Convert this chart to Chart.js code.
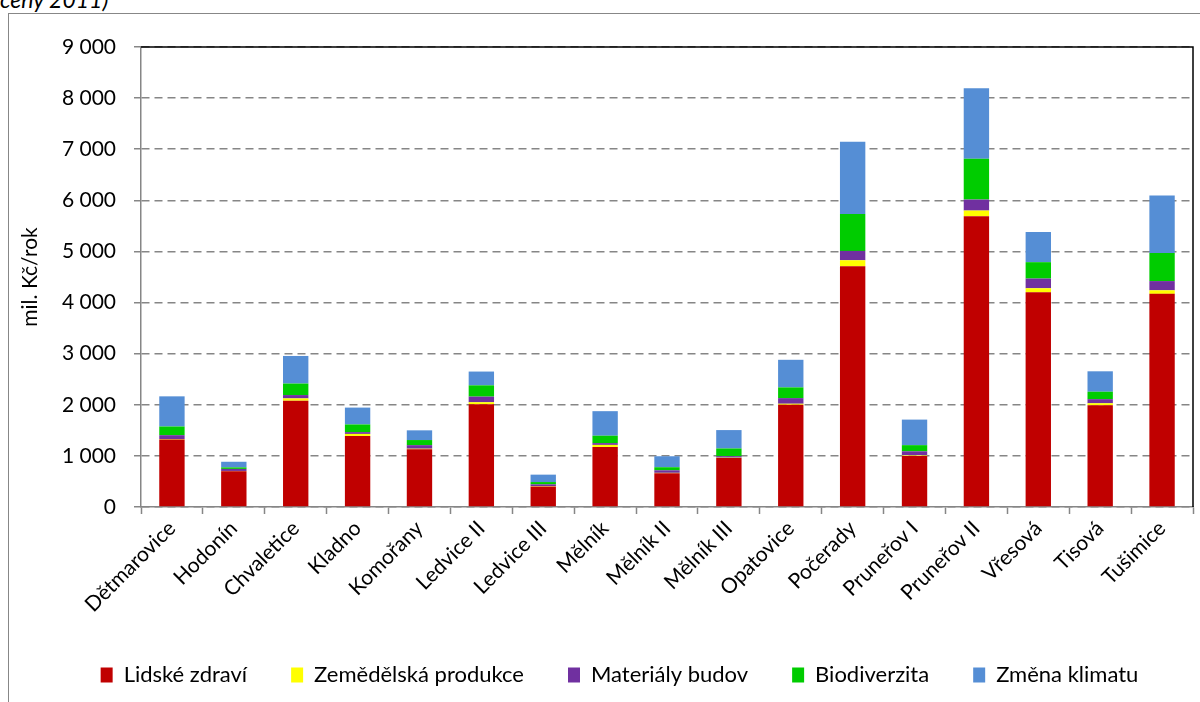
<!DOCTYPE html>
<html>
<head>
<meta charset="utf-8">
<script src="https://cdn.jsdelivr.net/npm/chart.js"></script>
<title>Externí náklady elektráren</title>
<style>
  html, body {
    margin: 0;
    padding: 0;
    background: #fff;
    overflow: hidden;
  }
  #wrap {
    position: relative;
    width: 1200px;
    height: 702px;
  }
  .frame {
    position: absolute;
    left: 8px;
    top: 13px;
    width: 1300px;
    height: 800px;
    border-left: 1.5px solid #878787;
    border-top: 1.5px solid #878787;
  }
  .note {
    position: absolute;
    left: 0;
    top: -12px;
    font-family: Lato, sans-serif;
    font-style: italic;
    font-size: 23px;
    line-height: 22px;
    color: #000;
  }
  canvas {
    position: absolute;
    left: 0;
    top: 0;
  }
</style>
</head>
<body>
<div id="wrap">
  <div class="note">ceny 2011)</div>
  <div class="frame"></div>
  <canvas id="chart" width="1200" height="702"></canvas>
</div>
<script>
  const elektrarny = ['Dětmarovice', 'Hodonín', 'Chvaletice', 'Kladno', 'Komořany', 'Ledvice II',
    'Ledvice III', 'Mělník', 'Mělník II', 'Mělník III', 'Opatovice', 'Počerady', 'Pruneřov I',
    'Pruneřov II', 'Vřesová', 'Tisová', 'Tušimice'];

  // mil. Kč/rok
  const lidskeZdravi = [1320, 700, 2080, 1390, 1130, 2010, 400, 1175, 660, 960, 2000, 4710, 1000, 5690, 4200, 1990, 4170];
  const zemedelskaProdukce = [10, 5, 45, 40, 10, 40, 8, 40, 8, 5, 20, 118, 10, 110, 80, 40, 70];
  const materialyBudov = [75, 40, 65, 35, 70, 110, 35, 35, 50, 30, 110, 183, 80, 215, 190, 80, 180];
  const biodiverzita = [170, 30, 225, 150, 100, 220, 45, 145, 60, 150, 210, 720, 120, 800, 320, 145, 550];
  const zmenaKlimatu = [590, 110, 540, 330, 190, 270, 145, 480, 215, 360, 540, 1413, 500, 1380, 590, 400, 1125];

  const yTicks = [0, 1000, 2000, 3000, 4000, 5000, 6000, 7000, 8000, 9000];

  const font = 'Lato';
  const grey = '#868686';

  function fmt(v) {
    return String(v).replace(/\B(?=(\d{3})+(?!\d))/g, ' ');
  }

  // black line along top and right side of the plot area
  const plotBorder = {
    id: 'plotBorder',
    afterDatasetsDraw(chart) {
      const a = chart.chartArea;
      const c = chart.ctx;
      c.save();
      c.strokeStyle = '#000';
      c.lineWidth = 1.5;
      c.beginPath();
      c.moveTo(a.left, a.top);
      c.lineTo(a.right, a.top);
      c.lineTo(a.right, a.bottom);
      c.stroke();
      c.restore();
    }
  };

  // legend is centred under the whole frame, a bit right of the canvas middle
  const legendShift = {
    id: 'legendShift',
    afterLayout(chart) {
      chart.legend.left += 23;
      chart.legend.right += 23;
    }
  };

  function ds(label, data, color) {
    return {
      label: label,
      data: data,
      backgroundColor: color,
      borderWidth: 0,
      barPercentage: 0.41,
      categoryPercentage: 1.0
    };
  }

  new Chart(document.getElementById('chart'), {
    type: 'bar',
    data: {
      labels: elektrarny,
      datasets: [
        ds('Lidské zdraví', lidskeZdravi, '#C00000'),
        ds('Zemědělská produkce', zemedelskaProdukce, '#FFFF00'),
        ds('Materiály budov', materialyBudov, '#7030A0'),
        ds('Biodiverzita', biodiverzita, '#00CC00'),
        ds('Změna klimatu', zmenaKlimatu, '#558ED5')
      ]
    },
    options: {
      responsive: false,
      animation: false,
      devicePixelRatio: 1,
      layout: {
        padding: { top: 47, right: 7, bottom: 6, left: 0 }
      },
      plugins: {
        tooltip: { enabled: false },
        legend: {
          position: 'bottom',
          labels: {
            font: { family: font, size: 22 },
            color: '#000',
            boxWidth: 12,
            boxHeight: 15,
            padding: 44
          }
        }
      },
      scales: {
        x: {
          stacked: true,
          grid: {
            offset: true,
            drawOnChartArea: false,
            drawTicks: true,
            tickLength: 7,
            tickColor: grey,
            tickWidth: 1.5
          },
          border: { color: grey, width: 1.5 },
          ticks: {
            font: { family: font, size: 21 },
            color: '#000',
            minRotation: 45,
            maxRotation: 45,
            autoSkip: false,
            padding: 2
          },
          afterFit(scale) { scale.height = 113; }
        },
        y: {
          stacked: true,
          min: 0,
          max: 9000,
          afterBuildTicks(scale) {
            scale.ticks = yTicks.map(v => ({ value: v }));
          },
          grid: {
            color: grey,
            lineWidth: 1.5,
            tickBorderDash: [],
            tickColor: grey,
            tickLength: 7,
            tickWidth: 1.5
          },
          border: { color: grey, width: 1.5, dash: [8, 5] },
          ticks: {
            font: { family: font, size: 21 },
            color: '#000',
            padding: 18,
            callback: v => fmt(v)
          },
          title: {
            display: true,
            text: 'mil. Kč/rok',
            font: { family: font, size: 21 },
            color: '#000',
            padding: { top: 18, bottom: 0 }
          },
          afterFit(scale) { scale.width = 141; }
        }
      }
    },
    plugins: [plotBorder, legendShift]
  });
</script>
</body>
</html>
